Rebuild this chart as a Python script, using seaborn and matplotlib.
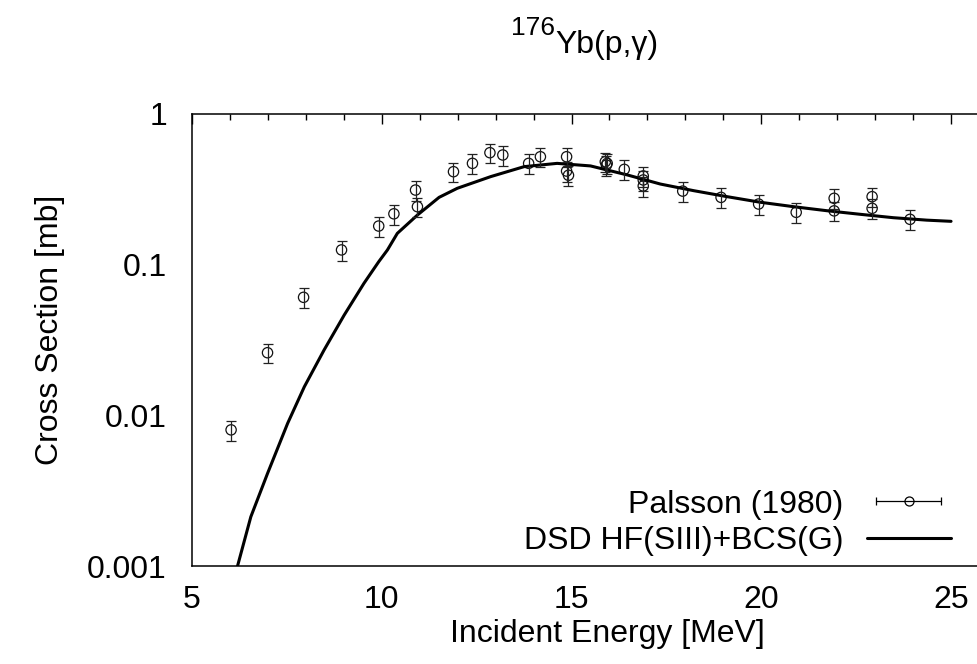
import matplotlib
matplotlib.use("Agg")
import matplotlib.pyplot as plt
import seaborn as sns
import pandas as pd
from matplotlib.lines import Line2D
from matplotlib.legend_handler import HandlerLine2D, HandlerTuple
from matplotlib.ticker import MultipleLocator, LogLocator, FixedLocator, FixedFormatter, NullFormatter

# ---- data ----
exp_energy = [6.03, 6.99, 7.94, 8.94, 9.92, 10.32, 10.89, 10.94, 11.89, 12.39, 12.85,
              13.19, 13.87, 14.18, 14.87, 14.87, 14.92, 15.89, 15.92, 15.94, 16.39,
              16.89, 16.89, 16.89, 17.93, 18.94, 19.93, 20.92, 21.92, 21.92, 22.92,
              22.92, 23.92]
exp_sigma = [0.0080, 0.026, 0.0606, 0.125, 0.180, 0.217, 0.312, 0.242, 0.413, 0.469,
             0.552, 0.533, 0.469, 0.519, 0.519, 0.417, 0.391, 0.481, 0.457, 0.469,
             0.428, 0.387, 0.364, 0.332, 0.307, 0.279, 0.252, 0.222, 0.275, 0.227,
             0.282, 0.236, 0.1995]
exp_err = [0.0012, 0.0039, 0.0091, 0.019, 0.027, 0.033, 0.047, 0.036, 0.062, 0.070,
           0.083, 0.080, 0.070, 0.078, 0.078, 0.063, 0.059, 0.072, 0.069, 0.070,
           0.064, 0.058, 0.055, 0.050, 0.046, 0.042, 0.038, 0.033, 0.041, 0.034,
           0.042, 0.035, 0.030]

calc_energy = [6.0, 6.2, 6.55, 6.99, 7.52, 7.96, 8.48, 9.01, 9.53, 9.92, 10.15, 10.41,
               10.94, 11.51, 11.99, 12.87, 13.75, 14.62, 15.5, 16.47, 17.34, 18.22,
               19.1, 19.97, 20.85, 21.73, 22.6, 23.48, 24.36, 25.0]
calc_sigma = [0.00065, 0.001, 0.00212, 0.00411, 0.00884, 0.01546, 0.0271, 0.0462,
              0.075, 0.1044, 0.125, 0.161, 0.213, 0.279, 0.3205, 0.383, 0.446, 0.469,
              0.451, 0.393, 0.342, 0.309, 0.282, 0.259, 0.242, 0.2275, 0.2155, 0.2045,
              0.197, 0.1935]

y_ticks = [0.001, 0.01, 0.1, 1]
y_tick_labels = ["0.001", "0.01", "0.1", "1"]
x_ticks = [5, 10, 15, 20, 25]

label_exp = "Palsson (1980)"
label_calc = "DSD HF(SIII)+BCS(G)"

sns.set_theme(style="white")
plt.rcParams["font.family"] = ["Liberation Sans", "DejaVu Sans"]
plt.rcParams["axes.linewidth"] = 1.1
FS = 23

fig = plt.figure(figsize=(9.77, 6.64), dpi=100)
ax = fig.add_axes([192 / 977, 1 - 566 / 664, (989 - 192) / 977, (566 - 113.8) / 664])

df_exp = pd.DataFrame({"E": exp_energy, "S": exp_sigma, "err": exp_err})
df_calc = pd.DataFrame({"E": calc_energy, "S": calc_sigma})

sns.lineplot(data=df_calc, x="E", y="S", ax=ax, color="black", lw=2.2, legend=False)
ax.errorbar(df_exp["E"], df_exp["S"], yerr=df_exp["err"], fmt="none",
            ecolor="#222222", elinewidth=0.9, capsize=3.4, capthick=0.9)
sns.scatterplot(data=df_exp, x="E", y="S", ax=ax, marker="o", s=55,
                facecolors="none", edgecolor="#111111", linewidth=0.9, legend=False)

ax.set_yscale("log")
ax.set_xlim(5, 26)
ax.set_ylim(0.001, 1)

ax.xaxis.set_major_locator(FixedLocator(x_ticks))
ax.xaxis.set_minor_locator(MultipleLocator(1))
ax.yaxis.set_major_locator(FixedLocator(y_ticks))
ax.yaxis.set_major_formatter(FixedFormatter(y_tick_labels))
ax.yaxis.set_minor_locator(LogLocator(base=10, subs=range(2, 10)))
ax.yaxis.set_minor_formatter(NullFormatter())

ax.tick_params(axis="both", which="both", direction="in", top=True, right=True,
               color="black", labelsize=FS, labelcolor="black")
ax.tick_params(axis="both", which="major", length=7, width=1.0)
ax.tick_params(axis="both", which="minor", length=4, width=1.0)
ax.tick_params(axis="y", which="major", pad=18)
ax.tick_params(axis="x", which="major", pad=14)
for sp in ax.spines.values():
    sp.set_color("black")

ax.set_xlabel("Incident Energy [MeV]", fontsize=FS, color="black")
ax.set_ylabel("Cross Section [mb]", fontsize=FS, color="black")
ax.xaxis.set_label_coords(0.521, -0.118)
ax.yaxis.set_label_coords(-0.159, 0.522)

# title: 176Yb(p,gamma)
fig.text(555 / 977, 1 - 35 / 664, "176", ha="right", va="baseline", fontsize=19, color="black")
fig.text(555 / 977, 1 - 53 / 664, "Yb(p,γ)", ha="left", va="baseline", fontsize=FS, color="black")

# legend
cap_h = Line2D([], [], color="black", lw=0.9, marker="|", markersize=5.5, markeredgewidth=0.9)
circ_h = Line2D([], [], ls="none", marker="o", markersize=6.5, mfc="none", mec="black", mew=0.9)
line_h = Line2D([], [], color="black", lw=2.2)
leg = ax.legend([(cap_h, circ_h), line_h], [label_exp, label_calc],
                handler_map={cap_h: HandlerLine2D(numpoints=2),
                             circ_h: HandlerLine2D(numpoints=1),
                             tuple: HandlerTuple(ndivide=1, pad=0)},
                loc="lower right", bbox_to_anchor=(0.952, 0.022), markerfirst=False,
                frameon=False, fontsize=FS, handlelength=2.63, handletextpad=0.74,
                labelspacing=0.2, borderpad=0, borderaxespad=0)
for t in leg.get_texts():
    t.set_color("black")

fig.savefig("out.png", dpi=100)
